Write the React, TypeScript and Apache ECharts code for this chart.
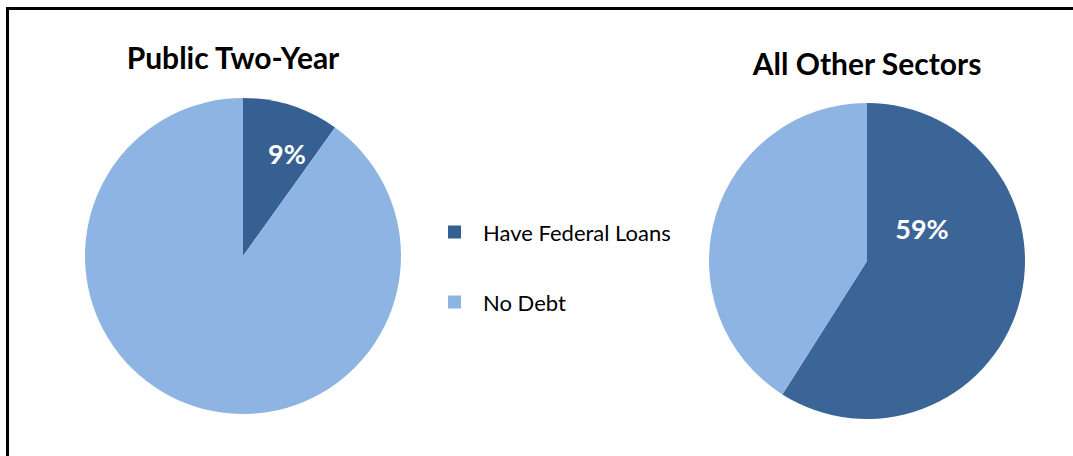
import React, { useEffect, useRef } from "react";
import * as echarts from "echarts";

const categories = ["Have Federal Loans", "No Debt"];
const publicTwoYear = [9.9, 90.1];
const publicTwoYearLabels = ["9%", ""];
const allOtherSectors = [59, 41];
const allOtherSectorsLabels = ["59%", ""];
const titles = ["Public Two-Year", "All Other Sectors"];

const DARK1 = "#376092";
const DARK2 = "#3c6597";
const LIGHT = "#8eb4e3";
const FONT = "Lato, 'Open Sans', sans-serif";

export default function App() {
  const ref = useRef<HTMLDivElement>(null);
  useEffect(() => {
    if (!ref.current) return;
    const chart = echarts.init(ref.current, undefined, { renderer: "svg" });
    const makeData = (vals: number[], labels: string[], dark: string) =>
      vals.map((v, i) => ({
        name: categories[i],
        value: v,
        itemStyle: { color: i === 0 ? dark : LIGHT },
        label: { show: labels[i] !== "" },
      }));
    const labelStyle = (labels: string[]) => ({
      show: true,
      position: "inside",
      formatter: (p: any) => labels[p.dataIndex],
      color: "#ffffff",
      fontSize: 27,
      fontWeight: "bold",
      fontFamily: FONT,
    });
    chart.setOption({
      animation: false,
      backgroundColor: "#ffffff",
      title: [
        {
          text: titles[0],
          left: 233,
          top: 42,
          padding: 0,
          textAlign: "center",
          textStyle: { fontSize: 30, fontWeight: "bold", fontFamily: FONT, color: "#000" },
        },
        {
          text: titles[1],
          left: 867,
          top: 48,
          padding: 0,
          textAlign: "center",
          textStyle: { fontSize: 30, fontWeight: "bold", fontFamily: FONT, color: "#000" },
        },
      ],
      legend: {
        data: categories,
        orient: "vertical",
        left: 448,
        top: 221,
        padding: 0,
        icon: "rect",
        itemWidth: 13,
        itemHeight: 13,
        itemGap: 48,
        textStyle: {
          fontSize: 22,
          lineHeight: 20,
          fontFamily: FONT,
          color: "#000",
          padding: [0, 0, 0, 17],
        },
      },
      graphic: [
        { type: "line", shape: { x1: 7.5, y1: 7, x2: 7.5, y2: 456 }, style: { stroke: "#000", lineWidth: 3 } },
        { type: "line", shape: { x1: 6, y1: 8.5, x2: 1073, y2: 8.5 }, style: { stroke: "#000", lineWidth: 3 } },
      ],
      series: [
        {
          type: "pie",
          name: titles[0],
          center: [243, 256],
          radius: 158,
          startAngle: 90,
          clockwise: true,
          silent: true,
          label: labelStyle(publicTwoYearLabels),
          labelLine: { show: false },
          labelLayout: { x: 287, y: 153, align: "center", verticalAlign: "middle" },
          data: makeData(publicTwoYear, publicTwoYearLabels, DARK1),
        },
        {
          type: "pie",
          name: titles[1],
          center: [867, 261],
          radius: 158,
          startAngle: 90,
          clockwise: true,
          silent: true,
          label: labelStyle(allOtherSectorsLabels),
          labelLine: { show: false },
          labelLayout: { x: 922, y: 228, align: "center", verticalAlign: "middle" },
          data: makeData(allOtherSectors, allOtherSectorsLabels, DARK2),
        },
      ],
    });
    return () => chart.dispose();
  }, []);
  return (
    <div
      ref={ref}
      style={{ position: "absolute", left: 0, top: 0, width: 1073, height: 456 }}
    />
  );
}
